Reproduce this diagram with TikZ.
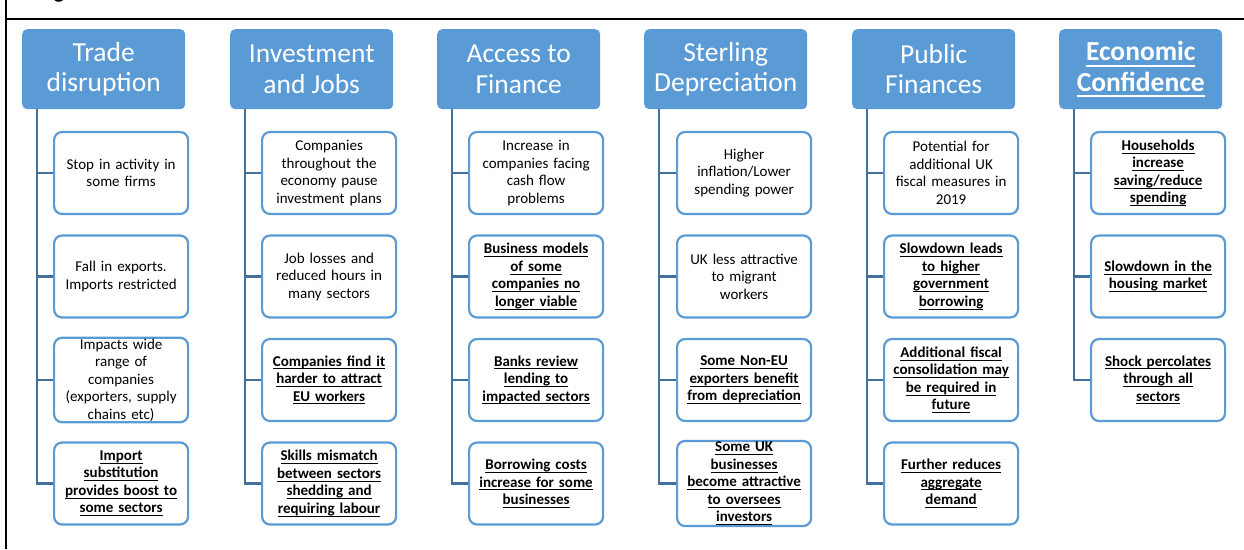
\documentclass[tikz,border=0pt]{standalone}
\usepackage{fontspec}
\setmainfont{Carlito}
\definecolor{hdr}{HTML}{5B9BD5}
\definecolor{conn}{HTML}{41719C}
\definecolor{cbord}{HTML}{5B9BD5}
\newcommand\bu[1]{{\bfseries\setbox0\hbox{#1}\leavevmode\rlap{\vrule width\wd0 height -0.15em depth 0.22em}\box0}}
\begin{document}
\begin{tikzpicture}[x=1pt,y=-1pt,
  hdrbox/.style={fill=hdr, rounded corners=5pt, minimum width=163pt, minimum height=80pt, text=white, font=\fontsize{27.5}{30.5}\selectfont, align=center, inner sep=0pt, anchor=north west},
  childbox/.style={draw=cbord, line width=2.2pt, fill=white, rounded corners=8pt, minimum width=134pt, minimum height=82pt, text width=132pt, inner sep=1pt, align=center, font=\fontsize{15}{17.5}\selectfont, anchor=west},
  conline/.style={draw=conn, line width=2.4pt},
  framel/.style={draw=black, line width=2pt}]
\useasboundingbox (0,0) rectangle (1244,549);
% frame
\coordinate (ftop) at (6,0);
\coordinate (fbot) at (6,549);
\coordinate (hl) at (6,18.7);
\coordinate (hr) at (1244,18.7);
\draw[framel] (ftop) -- (fbot);
\draw[framel] (hl) -- (hr);
\node[font=\bfseries\fontsize{22}{24}\selectfont, anchor=base, inner sep=0pt] (gfrag) at (59,-2) {g};
% headers
\node[hdrbox] (h1) at (22,29) {Trade\\disruption};
\node[hdrbox] (h2) at (230,29) {Investment\\and Jobs};
\node[hdrbox] (h3) at (437,29) {Access to\\Finance};
\node[hdrbox] (h4) at (644,29) {Sterling\\Depreciation};
\node[hdrbox] (h5) at (852,29) {Public\\Finances};
\node[hdrbox] (h6) at (1059,29) {\bu{Economic}\\\bu{Confidence}};
% column 1
\node[childbox] (a1) at (53,173) {Stop in activity in\\some firms};
\node[childbox] (a2) at (53,276.5) {Fall in exports.\\Imports restricted};
\node[childbox] (a3) at (53,380) {Impacts wide\\range of\\companies\\(exporters, supply\\chains etc)};
\node[childbox] (a4) at (53,483.5) {\bu{Import}\\\bu{substitution}\\\bu{provides boost to}\\\bu{some sectors}};
% column 2
\node[childbox] (b1) at (261,173) {Companies\\throughout the\\economy pause\\investment plans};
\node[childbox] (b2) at (261,276.5) {Job losses and\\reduced hours in\\many sectors};
\node[childbox] (b3) at (261,380) {\bu{Companies find it}\\\bu{harder to attract}\\\bu{EU workers}};
\node[childbox] (b4) at (261,483.5) {\bu{Skills mismatch}\\\bu{between sectors}\\\bu{shedding and}\\\bu{requiring labour}};
% column 3
\node[childbox] (d1) at (468,173) {Increase in\\companies facing\\cash flow\\problems};
\node[childbox] (d2) at (468,276.5) {\bu{Business models}\\\bu{of some}\\\bu{companies no}\\\bu{longer viable}};
\node[childbox] (d3) at (468,380) {\bu{Banks review}\\\bu{lending to}\\\bu{impacted sectors}};
\node[childbox] (d4) at (468,483.5) {\bu{Borrowing costs}\\\bu{increase for some}\\\bu{businesses}};
% column 4
\node[childbox] (e1) at (676,173) {Higher\\inflation/Lower\\spending power};
\node[childbox] (e2) at (676,276.5) {UK less attractive\\to migrant\\workers};
\node[childbox] (e3) at (676,380) {\bu{Some Non-EU}\\\bu{exporters benefit}\\\bu{from depreciation}};
\node[childbox] (e4) at (676,483.5) {\bu{Some UK}\\\bu{businesses}\\\bu{become attractive}\\\bu{to oversees}\\\bu{investors}};
% column 5
\node[childbox] (f1) at (883,173) {Potential for\\additional UK\\fiscal measures in\\2019};
\node[childbox] (f2) at (883,276.5) {\bu{Slowdown leads}\\\bu{to higher}\\\bu{government}\\\bu{borrowing}};
\node[childbox] (f3) at (883,380) {\bu{Additional fiscal}\\\bu{consolidation may}\\\bu{be required in}\\\bu{future}};
\node[childbox] (f4) at (883,483.5) {\bu{Further reduces}\\\bu{aggregate}\\\bu{demand}};
% column 6
\node[childbox] (g1) at (1090,173) {\bu{Households}\\\bu{increase}\\\bu{saving/reduce}\\\bu{spending}};
\node[childbox] (g2) at (1090,276.5) {\bu{Slowdown in the}\\\bu{housing market}};
\node[childbox] (g3) at (1090,380) {\bu{Shock percolates}\\\bu{through all}\\\bu{sectors}};
% connectors
\foreach \h/\kids in {h1/{a1,a2,a3,a4}, h2/{b1,b2,b3,b4}, h3/{d1,d2,d3,d4}, h4/{e1,e2,e3,e4}, h5/{f1,f2,f3,f4}, h6/{g1,g2,g3}}{
  \foreach \k in \kids {
    \draw[conline] ([xshift=15pt]\h.south west) |- (\k.west);
  }
}
\end{tikzpicture}
\end{document}
